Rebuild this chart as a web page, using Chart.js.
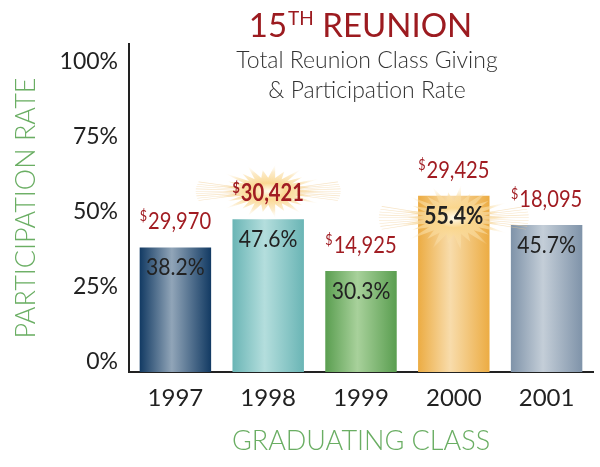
<!DOCTYPE html>
<html>
<head>
<meta charset="utf-8">
<script src="https://cdn.jsdelivr.net/npm/chart.js@4.4.1/dist/chart.umd.min.js"></script>
<style>
    html, body { margin: 0; padding: 0; background: #fff; }
    #wrap { width: 600px; height: 467px; }
</style>
</head>
<body>
<div id="wrap"><canvas id="reunionChart" width="600" height="467"></canvas></div>
<script>
// ---- data ----
const classYears = ['1997', '1998', '1999', '2000', '2001'];
const participation = [38.2, 47.6, 30.3, 55.4, 45.7];
const giving = [29970, 30421, 14925, 29425, 18095];
const yTickValues = [0, 25, 50, 75, 100];
const bestGiving = 1;   // 1998 gets the burst behind its $ label
const bestRate = 3;     // 2000 gets the burst behind its % label

// bar colours: edge / centre of the shine
const barEdge = ['#123a63', '#6ab5b5', '#5a9e50', '#ecac43', '#7f93a9'];
const barMid = ['#91a5b8', '#b4dedd', '#a8d19b', '#f8dcab', '#c4ced8'];

const RED = '#a11c22';
const GREEN = '#6aae63';
const INK = '#222';
const FONT = 'Lato, "Open Sans", sans-serif';
const BAR_PCT = 0.77;
// the axis floor sits a little under the 0% label in the original
const Y_MIN = -3.33;
const Y_MAX = 106;

function barGradient(context) {
    const chart = context.chart;
    const i = context.dataIndex;
    if (!chart.chartArea || i === undefined) return barEdge[0];
    const xs = chart.scales.x;
    const cx = xs.getPixelForValue(i);
    const half = (xs.width / classYears.length) * BAR_PCT / 2;
    const g = chart.ctx.createLinearGradient(cx - half, 0, cx + half, 0);
    g.addColorStop(0, barEdge[i]);
    g.addColorStop(0.45, barMid[i]);
    g.addColorStop(1, barEdge[i]);
    return g;
}

function starburst(c, x, y, rx, ry) {
    c.save();
    c.translate(x, y);
    c.scale(rx / ry, 1);
    const g = c.createRadialGradient(0, 0, 0, 0, 0, ry);
    g.addColorStop(0, 'rgba(255,252,240,1)');
    g.addColorStop(0.3, 'rgba(250,214,140,0.95)');
    g.addColorStop(0.7, 'rgba(250,222,165,0.6)');
    g.addColorStop(1, 'rgba(253,240,215,0)');
    c.fillStyle = g;
    c.beginPath();
    const n = 26;
    for (let k = 0; k < n * 2; k++) {
        let r = ry * 0.5;
        if (k % 4 === 0) r = ry;
        else if (k % 2 === 0) r = ry * 0.78;
        const a = k * Math.PI / n;
        c.lineTo(Math.cos(a) * r, Math.sin(a) * r);
    }
    c.closePath();
    c.fill();
    // thin side rays
    c.strokeStyle = 'rgba(240,205,150,0.55)';
    c.lineWidth = 0.6;
    for (let k = -4; k <= 4; k++) {
        const a = k * 0.07;
        c.beginPath();
        c.moveTo(ry * 0.5 * Math.cos(a), ry * 0.5 * Math.sin(a));
        c.lineTo(ry * 1.25 * Math.cos(a), ry * 1.25 * Math.sin(a));
        c.moveTo(-ry * 0.5 * Math.cos(a), ry * 0.5 * Math.sin(a));
        c.lineTo(-ry * 1.25 * Math.cos(a), ry * 1.25 * Math.sin(a));
        c.stroke();
    }
    c.restore();
}

// text squeezed sideways, Gill Sans is narrower than Lato
function squeezed(c, text, x, y, sx) {
    c.save();
    c.translate(x, y);
    c.scale(sx, 1);
    c.fillText(text, 0, 0);
    c.restore();
}

function drawMoney(c, value, cx, cy, bold) {
    const w = bold ? 'bold ' : '';
    const sx = 0.84;
    const main = value.toLocaleString('en-US');
    c.font = w + '24px ' + FONT;
    const wMain = c.measureText(main).width * sx;
    c.font = w + '15px ' + FONT;
    const wSign = c.measureText('$').width * sx;
    const left = cx - (wMain + wSign + 1) / 2;
    c.fillStyle = RED;
    c.textAlign = 'left';
    c.textBaseline = 'alphabetic';
    squeezed(c, '$', left, cy + 1, sx);
    c.font = w + '24px ' + FONT;
    squeezed(c, main, left + wSign + 1, cy + 9, sx);
}

const labelPlugin = {
    id: 'reunionLabels',
    afterDatasetsDraw(chart) {
        const c = chart.ctx;
        const bars = chart.getDatasetMeta(0).data;
        c.save();
        bars.forEach((bar, i) => {
            const moneyY = bar.y - 27;
            const pctY = bar.y + 20;
            if (i === bestGiving) starburst(c, bar.x, moneyY - 1, 58, 27);
            if (i === bestRate) starburst(c, bar.x, pctY + 2, 60, 33);
            drawMoney(c, giving[i], bar.x, moneyY, i === bestGiving);
            c.font = (i === bestRate ? 'bold ' : '') + '24px ' + FONT;
            c.fillStyle = INK;
            c.textAlign = 'center';
            c.textBaseline = 'middle';
            squeezed(c, participation[i] + '%', bar.x, pctY, 0.88);
        });
        c.restore();
    },
    afterDraw(chart) {
        const c = chart.ctx;
        c.save();
        // heading with superscript TH
        c.fillStyle = '#9c1b20';
        c.textBaseline = 'alphabetic';
        c.textAlign = 'left';
        c.font = '33px ' + FONT;
        const a = c.measureText('15').width;
        const b = c.measureText(' REUNION').width;
        c.font = '19px ' + FONT;
        const t = c.measureText('TH').width;
        const x = 360 - (a + t + b) / 2;
        c.font = '33px ' + FONT;
        c.fillText('15', x, 37);
        c.font = '19px ' + FONT;
        c.fillText('TH', x + a + 1, 25);
        c.font = '33px ' + FONT;
        c.fillText(' REUNION', x + a + t + 1, 37);
        // sub heading
        c.fillStyle = '#333';
        c.textAlign = 'center';
        c.font = '300 23px ' + FONT;
        c.fillText('Total Reunion Class Giving', 367, 68);
        c.fillText('& Participation Rate', 367, 98);
        c.restore();
    }
};

new Chart(document.getElementById('reunionChart'), {
    type: 'bar',
    data: {
        labels: classYears,
        datasets: [{
            data: participation,
            base: Y_MIN,
            backgroundColor: barGradient,
            borderWidth: 0,
            barPercentage: BAR_PCT,
            categoryPercentage: 1
        }]
    },
    options: {
        responsive: false,
        animation: false,
        layout: { padding: { top: 44, right: 7, left: 0, bottom: 0 } },
        plugins: {
            legend: { display: false },
            tooltip: { enabled: false }
        },
        scales: {
            x: {
                grid: { display: false, drawTicks: false },
                border: { color: INK, width: 2 },
                ticks: { color: INK, font: { family: FONT, size: 24 }, padding: 12 },
                title: {
                    display: true, text: 'GRADUATING CLASS', color: GREEN,
                    font: { family: FONT, size: 27, weight: '300' }, padding: { top: 0, bottom: 10 }
                },
                afterFit: (s) => { s.height = 95; }
            },
            y: {
                min: Y_MIN,
                max: Y_MAX,
                grid: { display: false, drawTicks: false },
                border: { color: INK, width: 2 },
                afterBuildTicks: (s) => { s.ticks = yTickValues.map(v => ({ value: v })); },
                ticks: {
                    color: INK, font: { family: FONT, size: 23 }, padding: 11,
                    callback: (v) => v + '%'
                },
                title: {
                    display: true, text: 'PARTICIPATION RATE', color: GREEN,
                    font: { family: FONT, size: 27, weight: '300' }, padding: { top: 10, bottom: 0 }
                },
                afterFit: (s) => { s.width = 129; }
            }
        }
    },
    plugins: [labelPlugin]
});
</script>
</body>
</html>
